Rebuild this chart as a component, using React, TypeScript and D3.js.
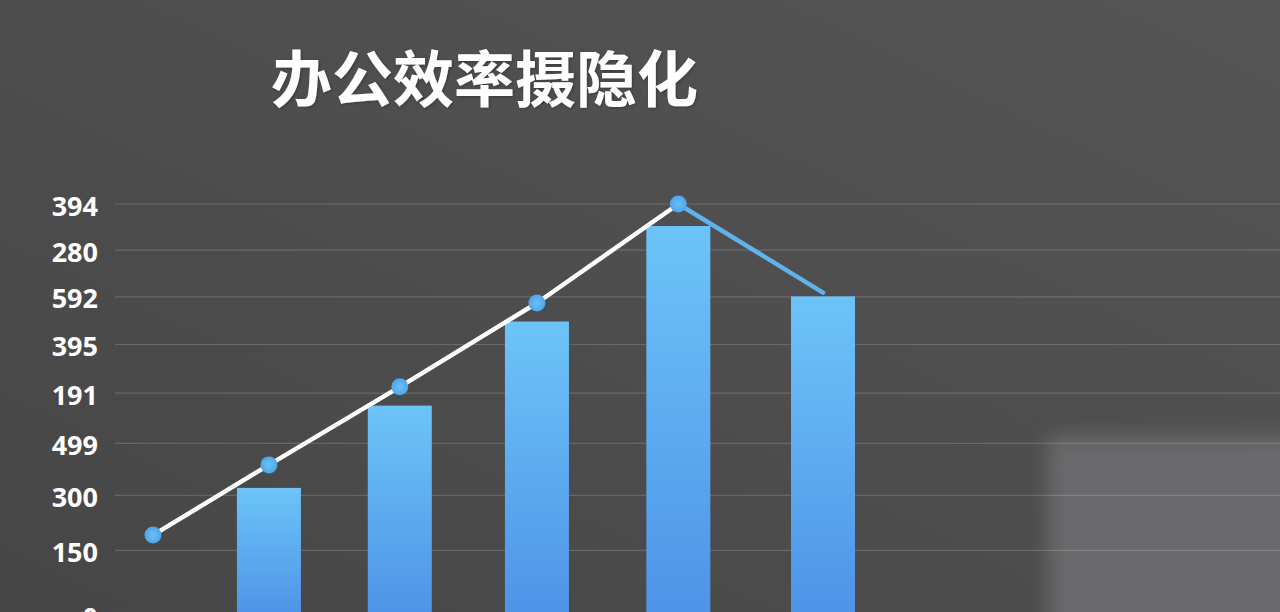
import * as d3 from 'd3';
import { useEffect, useRef } from 'react';

// categories are not labelled in the picture, only used as keys
const categories = ['1', '2', '3', '4', '5', '6'];
const lineValues = [127, 258, 413, 587, 800, 609];
const barValues = [null, 214, 375, 548, 752, 601];
const tickValues = [0, 100, 200, 300, 400, 500, 600, 700, 800];
const tickLabels = ['0', '150', '300', '499', '191', '395', '592', '280', '394'];
const title = '办公效率摄隐化';

export default function App() {
    const ref = useRef<SVGSVGElement>(null);

    const width = 1280,
        height = 612;

    useEffect(() => {
        const svg = d3.select(ref.current);
        svg.selectAll('*').remove();

        const defs = svg.append('defs');
        const bg = defs
            .append('linearGradient')
            .attr('id', 'bg')
            .attr('x1', 0)
            .attr('y1', 1)
            .attr('x2', 1)
            .attr('y2', 0);
        bg.append('stop').attr('offset', 0).attr('stop-color', '#464646');
        bg.append('stop').attr('offset', 1).attr('stop-color', '#555555');

        const barGrad = defs
            .append('linearGradient')
            .attr('id', 'barGrad')
            .attr('x1', 0)
            .attr('y1', 0)
            .attr('x2', 0)
            .attr('y2', 1);
        barGrad.append('stop').attr('offset', 0).attr('stop-color', '#6dc4f8');
        barGrad.append('stop').attr('offset', 1).attr('stop-color', '#4f93e7');

        const dotGrad = defs.append('radialGradient').attr('id', 'dotGrad');
        dotGrad.append('stop').attr('offset', 0).attr('stop-color', '#6cc0f6');
        dotGrad.append('stop').attr('offset', 1).attr('stop-color', '#4fa6ea');

        defs.append('filter')
            .attr('id', 'blur')
            .attr('x', '-20%')
            .attr('y', '-20%')
            .attr('width', '140%')
            .attr('height', '140%')
            .append('feGaussianBlur')
            .attr('stdDeviation', 10);

        const shadow = defs.append('filter').attr('id', 'shadow');
        shadow
            .append('feDropShadow')
            .attr('dx', 1)
            .attr('dy', 1)
            .attr('stdDeviation', 1.5)
            .attr('flood-color', '#000')
            .attr('flood-opacity', 0.3);

        svg.append('rect').attr('width', width).attr('height', height).attr('fill', 'url(#bg)');

        // soft light patch, lower right
        svg.append('rect')
            .attr('x', 1048)
            .attr('y', 436)
            .attr('width', 260)
            .attr('height', 200)
            .attr('fill', '#737377')
            .attr('opacity', 0.75)
            .attr('filter', 'url(#blur)');

        // the picture has a slight perspective, so both scales are pow
        const x = d3
            .scalePow()
            .exponent(1.09)
            .domain([0, categories.length - 1])
            .range([153, 823]);
        const y = d3.scalePow().exponent(0.89).domain([0, 800]).range([615, 204]);

        const grid = svg.append('g');
        grid.selectAll('line')
            .data(tickValues)
            .join('line')
            .attr('x1', 115)
            .attr('x2', width)
            .attr('y1', (d) => y(d))
            .attr('y2', (d) => y(d))
            .attr('stroke', '#ffffff')
            .attr('stroke-opacity', 0.16)
            .attr('stroke-width', 1.2);

        grid.selectAll('text')
            .data(tickValues)
            .join('text')
            .attr('x', 98)
            .attr('y', (d) => y(d) + 1)
            .attr('text-anchor', 'end')
            .attr('dominant-baseline', 'central')
            .attr('fill', '#ffffff')
            .attr('font-family', '"Open Sans", sans-serif')
            .attr('font-weight', 700)
            .attr('font-size', 27)
            .text((d, i) => tickLabels[i]);

        const barW = 64;
        svg.append('g')
            .selectAll('rect')
            .data(barValues.map((v, i) => ({ v, i })).filter((d) => d.v !== null))
            .join('rect')
            .attr('x', (d) => x(d.i) - barW / 2)
            .attr('y', (d) => y(d.v as number))
            .attr('width', barW)
            .attr('height', (d) => y(0) - y(d.v as number))
            .attr('fill', 'url(#barGrad)');

        const pts: [number, number][] = lineValues.map((v, i) => [x(i), y(v)]);
        const line = d3.line();
        const segs = svg.append('g');
        for (let i = 0; i < pts.length - 1; i++) {
            const last = i === pts.length - 2;
            segs.append('path')
                .attr('d', line([pts[i], pts[i + 1]]))
                .attr('stroke', last ? '#5fb2ec' : '#ffffff')
                .attr('stroke-width', 4.5)
                .attr('stroke-linecap', 'round')
                .attr('fill', 'none');
        }

        svg.append('g')
            .selectAll('circle')
            .data(pts.slice(0, pts.length - 1))
            .join('circle')
            .attr('cx', (d) => d[0])
            .attr('cy', (d) => d[1])
            .attr('r', 8.5)
            .attr('fill', 'url(#dotGrad)');

        svg.append('text')
            .attr('x', 271)
            .attr('y', 102)
            .attr('fill', '#ffffff')
            .attr('font-family', '"Noto Sans CJK SC", sans-serif')
            .attr('font-weight', 700)
            .attr('font-size', 61)
            .attr('filter', 'url(#shadow)')
            .text(title);
    }, [width, height]);

    return (
        <svg
            ref={ref}
            width={width}
            height={height}
            style={{ position: 'absolute', left: 0, top: 0, display: 'block' }}
        />
    );
}
